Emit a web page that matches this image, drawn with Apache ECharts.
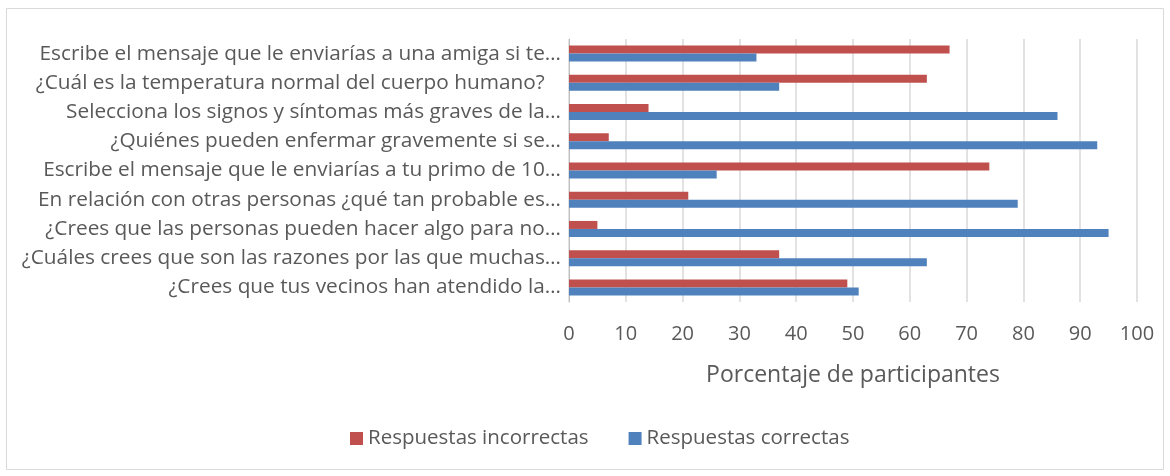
<!DOCTYPE html>
<html>
<head>
<meta charset="utf-8">
<script src="https://cdn.jsdelivr.net/npm/echarts@6/dist/echarts.min.js"></script>
<style>
  html, body { margin: 0; padding: 0; background: #fff; }
  #chart { width: 1170px; height: 476px; }
</style>
</head>
<body>
<div id="chart"></div>
<script>
// preguntas, de arriba hacia abajo
const preguntas = [
    'Escribe el mensaje que le enviarías a una amiga si te…',
    '¿Cuál es la temperatura normal del cuerpo humano?   ',
    'Selecciona los signos y síntomas más graves de la…',
    '¿Quiénes pueden enfermar gravemente si se…',
    'Escribe el mensaje que le enviarías a tu primo de 10…',
    'En relación con otras personas ¿qué tan probable es…',
    '¿Crees que las personas pueden hacer algo para no…',
    '¿Cuáles crees que son las razones por las que muchas…',
    '¿Crees que tus vecinos han atendido la…'
];
const incorrectas = [67, 63, 14, 7, 74, 21, 5, 37, 49];
const correctas = [33, 37, 86, 93, 26, 79, 95, 63, 51];
const nombres = ['Respuestas incorrectas', 'Respuestas correctas'];

const chart = echarts.init(document.getElementById('chart'));
const fuente = '"Open Sans", sans-serif';

const option = {
    backgroundColor: '#fff',
    animation: false,
    textStyle: { fontFamily: fuente },
    graphic: [{
        type: 'rect',
        shape: { x: 6.5, y: 8.5, width: 1157, height: 461 },
        style: { fill: 'none', stroke: '#d9d9d9', lineWidth: 1 }
    }],
    grid: {
        left: 569,
        right: 33,
        top: 39,
        bottom: 174
    },
    legend: {
        data: nombres,
        bottom: 22,
        left: 345,
        itemWidth: 13,
        itemHeight: 13,
        itemGap: 40,
        icon: 'rect',
        textStyle: { color: '#595959', fontSize: 20.5, fontFamily: fuente }
    },
    xAxis: {
        type: 'value',
        min: 0,
        max: 100,
        interval: 10,
        name: 'Porcentaje de participantes',
        nameLocation: 'middle',
        nameGap: 62,
        nameTextStyle: { color: '#595959', fontSize: 23, fontFamily: fuente },
        axisLine: { show: false },
        axisTick: { show: false },
        axisLabel: { color: '#595959', fontSize: 20, margin: 22, fontFamily: fuente },
        splitLine: { lineStyle: { color: '#d9d9d9', width: 1.5 } }
    },
    yAxis: {
        type: 'category',
        inverse: true,
        data: preguntas,
        axisLine: { show: true, lineStyle: { color: '#bfbfbf', width: 1 } },
        axisTick: { show: false },
        axisLabel: { color: '#595959', fontSize: 20.8, margin: 8, fontFamily: fuente }
    },
    series: [
        {
            name: nombres[0],
            type: 'bar',
            data: incorrectas,
            barWidth: 8,
            barGap: '0%',
            itemStyle: { color: '#C0504D' }
        },
        {
            name: nombres[1],
            type: 'bar',
            data: correctas,
            barWidth: 8,
            barGap: '0%',
            itemStyle: { color: '#4F81BD' }
        }
    ]
};
chart.setOption(option);
</script>
</body>
</html>
